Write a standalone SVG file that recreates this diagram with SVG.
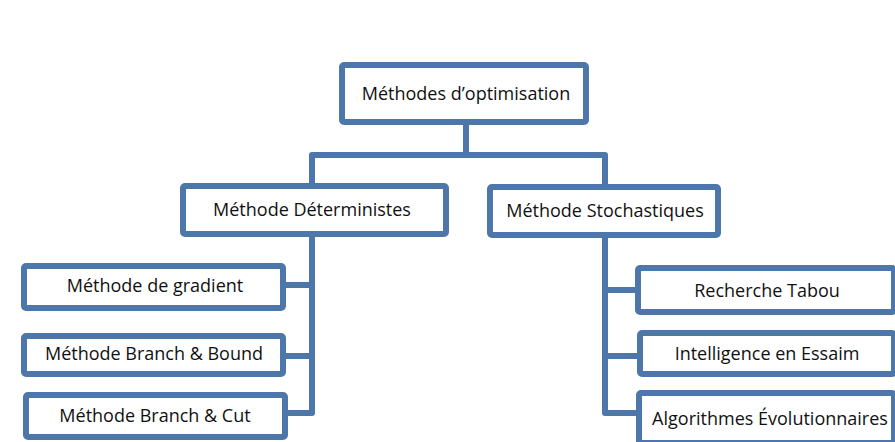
<svg xmlns="http://www.w3.org/2000/svg" width="895" height="442" viewBox="0 0 895 442">
<style>
.box{fill:#ffffff;stroke:#4d77ab;stroke-width:6;}
.conn{fill:none;stroke:#4d77ab;stroke-width:6;stroke-linejoin:round;stroke-linecap:butt;}
.lbl{font-family:"Open Sans","Liberation Sans",Arial,sans-serif;font-size:18px;fill:#111111;text-anchor:middle;}
</style>
<rect width="895" height="442" fill="#ffffff"/>
<g id="connectors">
<path class="conn" d="M466 122 V155"/>
<path class="conn" d="M312 186 V155 H605 V187"/>
<path class="conn" d="M312 234 V413 H285 M312 285 H283 M312 356 H283"/>
<path class="conn" d="M605 235 V413 H639 M605 290 H638 M605 356 H640"/>
</g>
<g id="root">
<rect class="box" x="342" y="65" width="244" height="57" rx="2"/>
<text class="lbl" x="466" y="100">Méthodes d’optimisation</text>
</g>
<g id="deterministes">
<rect class="box" x="183" y="186" width="263" height="48" rx="2"/>
<text class="lbl" x="312" y="216">Méthode Déterministes</text>
</g>
<g id="stochastiques">
<rect class="box" x="490" y="187" width="228" height="48" rx="2"/>
<text class="lbl" x="605" y="217">Méthode Stochastiques</text>
</g>
<g id="gradient">
<rect class="box" x="24" y="266" width="259" height="42" rx="2"/>
<text class="lbl" x="155" y="292">Méthode de gradient</text>
</g>
<g id="branch-bound">
<rect class="box" x="24" y="336" width="259" height="38" rx="2"/>
<text class="lbl" x="154" y="360">Méthode Branch &amp; Bound</text>
</g>
<g id="branch-cut">
<rect class="box" x="26" y="395" width="259" height="42" rx="2"/>
<text class="lbl" x="155" y="422">Méthode Branch &amp; Cut</text>
</g>
<g id="tabou">
<rect class="box" x="638" y="268" width="256" height="44" rx="2"/>
<text class="lbl" x="767" y="297">Recherche Tabou</text>
</g>
<g id="essaim">
<rect class="box" x="640" y="333" width="254" height="41" rx="2"/>
<text class="lbl" x="767" y="360">Intelligence en Essaim</text>
</g>
<g id="evolutionnaires">
<rect class="box" x="639" y="393" width="255" height="50" rx="2"/>
<text class="lbl" x="770" y="425">Algorithmes Évolutionnaires</text>
</g>
</svg>
